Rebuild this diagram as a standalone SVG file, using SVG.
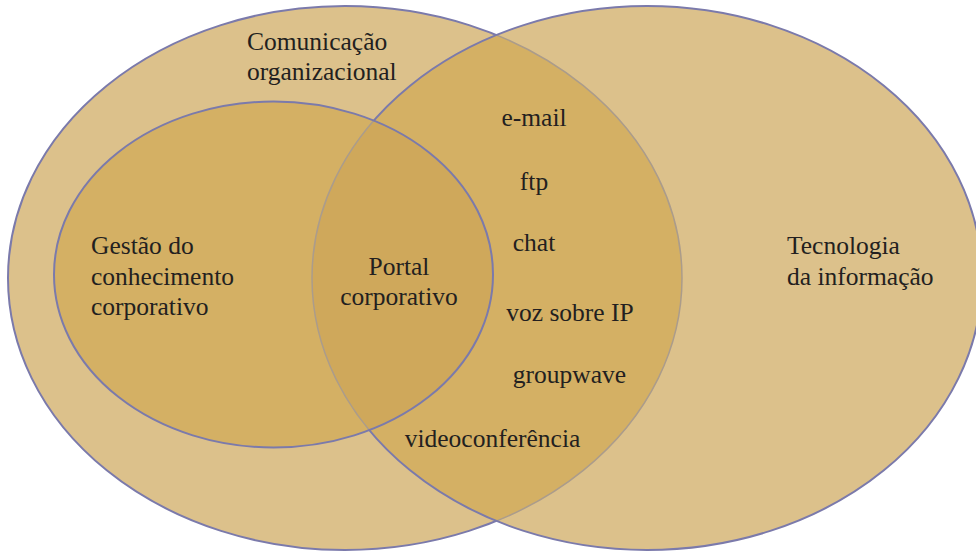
<svg xmlns="http://www.w3.org/2000/svg" width="976" height="552" viewBox="0 0 976 552">
  <style>
    .lbl { font-family: "Liberation Serif", "Times New Roman", serif; font-size: 25.5px; fill: #231f20; }
    .mid { text-anchor: middle; }
    .blue { fill: none; stroke: #7b7aab; stroke-width: 2; }
    .grey { fill: none; stroke: #ab9c8b; stroke-width: 1.5; }
  </style>
  <defs>
    <ellipse id="eL" cx="345" cy="278" rx="337" ry="272"/>
    <ellipse id="eR" cx="647" cy="278" rx="335" ry="272"/>
    <ellipse id="eG" cx="273.5" cy="274.5" rx="219.5" ry="173"/>
    <clipPath id="inR"><use href="#eR"/></clipPath>
    <clipPath id="inG"><use href="#eG"/></clipPath>
    <clipPath id="outR"><path clip-rule="evenodd" d="M-10,-10H1000V570H-10Z M312,278 A335,272 0 1,0 982,278 A335,272 0 1,0 312,278Z"/></clipPath>
    <clipPath id="outG"><path clip-rule="evenodd" d="M-10,-10H1000V570H-10Z M54,274.5 A219.5,173 0 1,0 493,274.5 A219.5,173 0 1,0 54,274.5Z"/></clipPath>
  </defs>

  <g id="fills">
    <use href="#eL" fill="#dcc18b"/>
    <use href="#eR" fill="#dcc18b"/>
    <use href="#eL" fill="#d4b064" clip-path="url(#inR)"/>
    <use href="#eG" fill="#d4b064"/>
    <use href="#eG" fill="#cfa85b" clip-path="url(#inR)"/>
  </g>

  <g id="comunicacao-organizacional">
    <use href="#eL" class="blue" clip-path="url(#outR)"/>
    <use href="#eL" class="grey" clip-path="url(#inR)"/>
    <text class="lbl" x="247" y="50">Comunicação</text>
    <text class="lbl" x="247" y="80">organizacional</text>
  </g>

  <g id="tecnologia-informacao">
    <use href="#eR" class="blue" clip-path="url(#outG)"/>
    <use href="#eR" class="grey" clip-path="url(#inG)"/>
    <text class="lbl" x="787" y="254">Tecnologia</text>
    <text class="lbl" x="787" y="285">da informação</text>
  </g>

  <g id="gestao-conhecimento">
    <use href="#eG" class="blue"/>
    <text class="lbl" x="91" y="254">Gestão do</text>
    <text class="lbl" x="91" y="285">conhecimento</text>
    <text class="lbl" x="91" y="315">corporativo</text>
  </g>

  <g id="portal-corporativo">
    <text class="lbl mid" x="399" y="275">Portal</text>
    <text class="lbl mid" x="399" y="305">corporativo</text>
  </g>

  <g id="ferramentas">
    <text class="lbl mid" x="534" y="126">e-mail</text>
    <text class="lbl mid" x="534" y="190">ftp</text>
    <text class="lbl mid" x="534" y="251">chat</text>
    <text class="lbl mid" x="570" y="321">voz sobre IP</text>
    <text class="lbl mid" x="569.5" y="383">groupwave</text>
    <text class="lbl mid" x="492.5" y="447">videoconferência</text>
  </g>

  <g id="connectors"/>
</svg>
